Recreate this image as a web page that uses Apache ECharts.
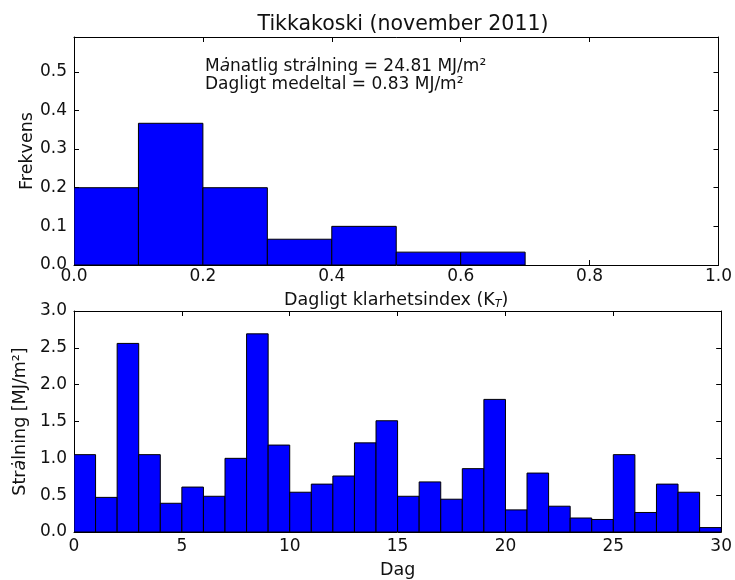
<!DOCTYPE html>
<html>
<head>
<meta charset="utf-8">
<script src="https://cdn.jsdelivr.net/npm/echarts@6/dist/echarts.min.js"></script>
<style>html,body{margin:0;padding:0;background:#fff;}#c{width:735px;height:580px;}</style>
</head>
<body>
<div id="c"></div>
<script>
// ---- data ----
const titleText = 'Tikkakoski (november 2011)';
const binEdges = [0.0, 0.1, 0.2, 0.3, 0.4, 0.5, 0.6, 0.7];
const binFreq = [0.2, 0.3667, 0.2, 0.0667, 0.1, 0.0333, 0.0333];
const dailyRad = [1.05, 0.47, 2.56, 1.05, 0.39, 0.61, 0.485, 1.00, 2.69, 1.18,
                  0.54, 0.65, 0.76, 1.21, 1.51, 0.485, 0.68, 0.445, 0.86, 1.80,
                  0.30, 0.80, 0.35, 0.19, 0.17, 1.05, 0.265, 0.65, 0.54, 0.06];
const annotLines = ['M{i|ȧ}natlig str{i|ȧ}lning = 24.81 MJ/m²', 'Dagligt medeltal = 0.83 MJ/m²'];

const histData = binFreq.map((f, i) => [binEdges[i], binEdges[i + 1], f]);
const dayData = dailyRad.map((v, i) => [i, i + 1, v]);

const FONT = 'DejaVu Sans';
const ink = '#111';
const TICK_FS = 17;
const NAME_FS = 17.5;

function renderBar(params, api) {
  const x0 = api.value(0), x1 = api.value(1), y = api.value(2);
  const p0 = api.coord([x0, y]);
  const p1 = api.coord([x1, 0]);
  return {
    type: 'rect',
    shape: { x: p0[0], y: p0[1], width: p1[0] - p0[0], height: p1[1] - p0[1] },
    style: { fill: '#0000ff', stroke: '#000', lineWidth: 1 }
  };
}

function mainAxis(extra) {
  return Object.assign({
    type: 'value',
    nameMoveOverlap: false,
    axisLine: { show: true, onZero: false, lineStyle: { color: '#000', width: 1 } },
    axisTick: { show: true, inside: true, length: 5, lineStyle: { color: '#000' } },
    splitLine: { show: false },
    axisLabel: { color: ink, fontFamily: FONT, fontSize: TICK_FS },
    nameTextStyle: { color: ink, fontFamily: FONT, fontSize: NAME_FS }
  }, extra);
}
function mirrorAxis(extra) {
  return Object.assign({
    type: 'value',
    axisLine: { show: true, onZero: false, lineStyle: { color: '#000', width: 1 } },
    axisTick: { show: true, inside: true, length: 5, lineStyle: { color: '#000' } },
    splitLine: { show: false },
    axisLabel: { show: false }
  }, extra);
}
const fmt1 = v => v.toFixed(1);

const chart = echarts.init(document.getElementById('c'), null, { renderer: 'canvas' });
chart.setOption({
  backgroundColor: '#fff',
  animation: false,
  title: {
    text: titleText, left: 398, top: 9, textAlign: 'center',
    textStyle: { fontFamily: FONT, fontSize: 20.5, fontWeight: 'normal', color: ink }
  },
  grid: [
    { left: 74, right: 12, top: 37, height: 228 },
    { left: 74, right: 12, top: 311, height: 226 }
  ],
  xAxis: [
    mainAxis({ gridIndex: 0, min: 0, max: 1, interval: 0.2, position: 'bottom',
      axisLabel: { color: ink, fontFamily: FONT, fontSize: TICK_FS, margin: 3, formatter: fmt1 },
      name: 'Dagligt klarhetsindex (K{sub|T})', nameLocation: 'middle', nameGap: 26,
      nameTextStyle: { color: ink, fontFamily: FONT, fontSize: NAME_FS,
        rich: { sub: { fontFamily: FONT, fontSize: 11, fontStyle: 'italic', color: ink, padding: [8, 0, 0, 0] } } } }),
    mirrorAxis({ gridIndex: 0, min: 0, max: 1, interval: 0.2, position: 'top' }),
    mainAxis({ gridIndex: 1, min: 0, max: 30, interval: 5, position: 'bottom',
      axisLabel: { color: ink, fontFamily: FONT, fontSize: TICK_FS, margin: 6 },
      name: 'Dag', nameLocation: 'middle', nameGap: 29 }),
    mirrorAxis({ gridIndex: 1, min: 0, max: 30, interval: 5, position: 'top' })
  ],
  yAxis: [
    mainAxis({ gridIndex: 0, min: 0, max: 0.59, interval: 0.1, position: 'left',
      axisLabel: { color: ink, fontFamily: FONT, fontSize: TICK_FS, margin: 7, formatter: fmt1, showMaxLabel: false },
      name: 'Frekvens', nameLocation: 'middle', nameGap: 38 }),
    mirrorAxis({ gridIndex: 0, min: 0, max: 0.59, interval: 0.1, position: 'right' }),
    mainAxis({ gridIndex: 1, min: 0, max: 3, interval: 0.5, position: 'left',
      axisLabel: { color: ink, fontFamily: FONT, fontSize: TICK_FS, margin: 7, formatter: fmt1 },
      name: 'Str{i|ȧ}lning [MJ/m²]', nameLocation: 'middle', nameGap: 45,
      nameTextStyle: { color: ink, fontFamily: FONT, fontSize: NAME_FS,
        rich: { i: { fontFamily: FONT, fontSize: NAME_FS, fontStyle: 'italic', color: ink } } } }),
    mirrorAxis({ gridIndex: 1, min: 0, max: 3, interval: 0.5, position: 'right' })
  ],
  series: [
    { type: 'custom', xAxisIndex: 0, yAxisIndex: 0, renderItem: renderBar, data: histData,
      encode: { x: [0, 1], y: 2 }, clip: true },
    { type: 'custom', xAxisIndex: 2, yAxisIndex: 2, renderItem: renderBar, data: dayData,
      encode: { x: [0, 1], y: 2 }, clip: true }
  ],
  graphic: [
    { type: 'text', left: 205, top: 58,
      style: { text: annotLines[0], fontFamily: FONT, fontSize: 17, fill: ink,
        rich: { i: { fontFamily: FONT, fontSize: 17, fontStyle: 'italic', fill: ink } } } },
    { type: 'text', left: 205, top: 76,
      style: { text: annotLines[1], fontFamily: FONT, fontSize: 17, fill: ink } }
  ]
});
</script>
</body>
</html>
